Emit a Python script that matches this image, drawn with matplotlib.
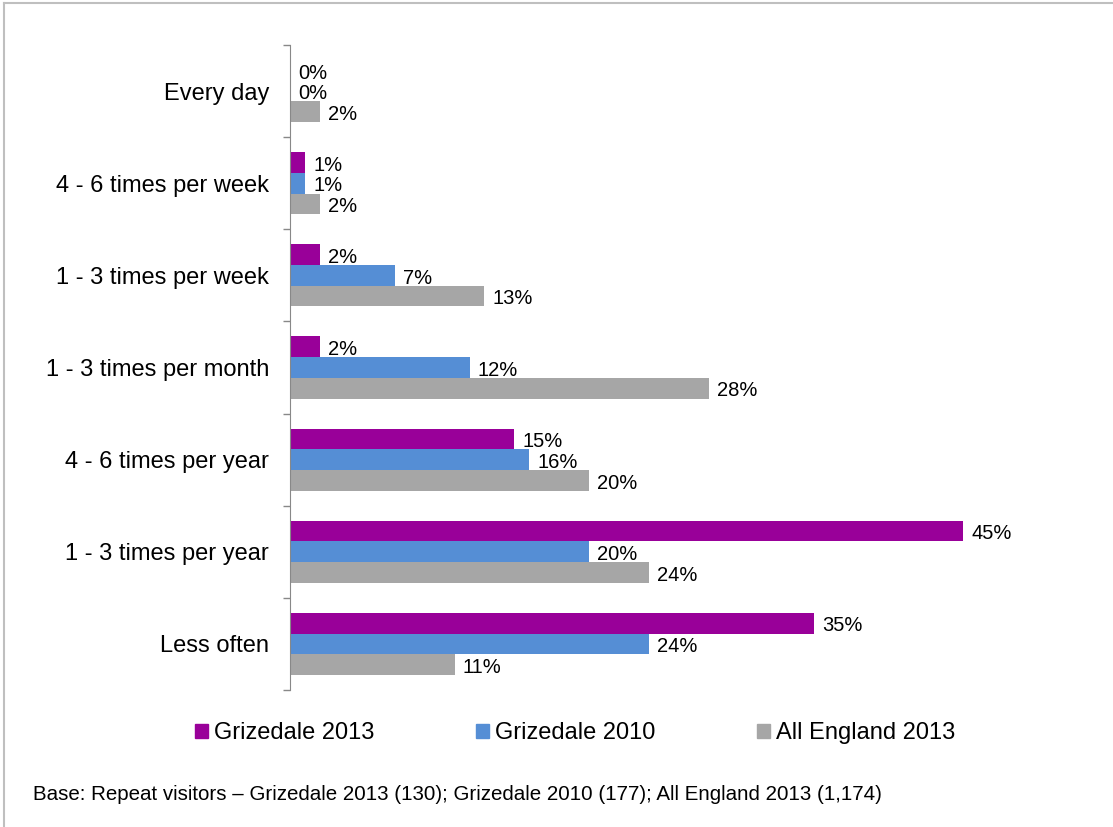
import matplotlib.pyplot as plt
from matplotlib.patches import Patch
from matplotlib.lines import Line2D

plt.rcParams['font.family'] = ['Liberation Sans', 'DejaVu Sans']

categories = ["Every day", "4 - 6 times per week", "1 - 3 times per week",
              "1 - 3 times per month", "4 - 6 times per year",
              "1 - 3 times per year", "Less often"]
grizedale_2013 = [0, 1, 2, 2, 15, 45, 35]
grizedale_2010 = [0, 1, 7, 12, 16, 20, 24]
england_2013 = [2, 2, 13, 28, 20, 24, 11]

series = [("Grizedale 2013", grizedale_2013, "#990099"),
          ("Grizedale 2010", grizedale_2010, "#558ED5"),
          ("All England 2013", england_2013, "#A6A6A6")]

fig = plt.figure(figsize=(11.13, 8.27), dpi=100)
ax = fig.add_axes([290 / 1113, 1 - 690 / 827, 748 / 1113, 645 / 827])

bar_h = 0.225
for i, (name, vals, col) in enumerate(series):
    for j, v in enumerate(vals):
        y = j + (i - 1) * bar_h
        ax.barh(y, v, height=bar_h, color=col)
        ax.text(v + 0.55, y + 0.03, f"{v}%", va="center", ha="left", fontsize=14.5)

ax.set_xlim(0, 50)
ax.set_ylim(len(categories) - 0.5, -0.5)
ax.set_yticks(range(len(categories)))
ax.set_yticklabels(categories, fontsize=17)
ax.set_yticks([k - 0.5 for k in range(len(categories) + 1)], minor=True)
ax.tick_params(axis="y", which="major", length=0, pad=15)
ax.tick_params(axis="y", which="minor", length=5, color="#888888", width=1)
ax.set_xticks([])
for s in ["top", "right", "bottom"]:
    ax.spines[s].set_visible(False)
ax.spines["left"].set_color("#888888")

handles = [Patch(color=c, label=n) for n, _, c in series]
fig.legend(handles=handles, loc="center", bbox_to_anchor=(575 / 1113, 1 - 733 / 827),
           ncol=3, frameon=False, fontsize=17, handlelength=0.55, handleheight=0.55,
           handletextpad=0.25, columnspacing=4.3)

fig.text(33 / 1113, 1 - 794 / 827,
         "Base: Repeat visitors \u2013 Grizedale 2013 (130); Grizedale 2010 (177); All England 2013 (1,174)",
         fontsize=14.8, va="center", ha="left")

# light frame along top and left edge
fig.add_artist(Line2D([4 / 1113, 4 / 1113], [0, 1 - 3 / 827], transform=fig.transFigure,
                      color="#BFBFBF", lw=1.5))
fig.add_artist(Line2D([4 / 1113, 1], [1 - 3 / 827, 1 - 3 / 827], transform=fig.transFigure,
                      color="#BFBFBF", lw=1.5))

fig.savefig("out.png", dpi=100)
